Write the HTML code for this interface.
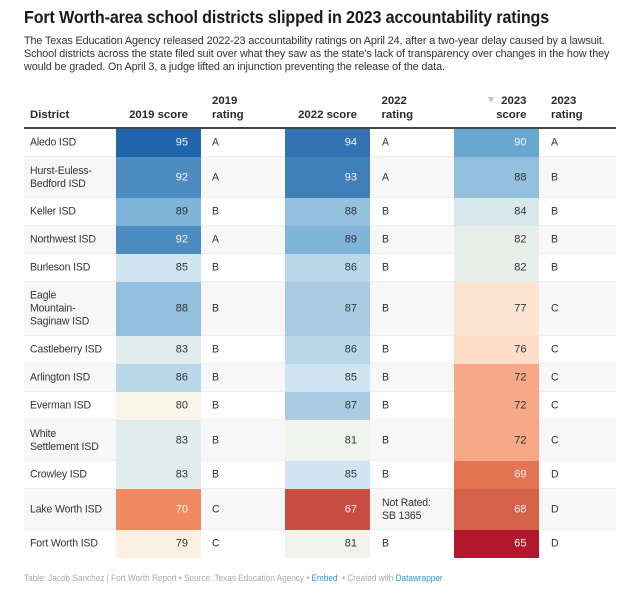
<!DOCTYPE html>
<html lang="en">
<head>
<meta charset="utf-8">
<title>Fort Worth-area school districts</title>
<style>
  html, body { margin: 0; padding: 0; background: #fff; }
  body { position: relative; width: 640px; height: 605px; overflow: hidden; font-family: "Liberation Sans", Arial, sans-serif; color: #333; filter: blur(0.3px); }
  .abs { position: absolute; white-space: nowrap; }
  #title { left: 24px; top: 6px; font-size: 17.5px; line-height: 22px; font-weight: 700; color: #1a1a1a; letter-spacing: -0.13px; transform: scaleX(0.918); transform-origin: left center; }
  .sub { left: 24px; font-size: 11.3px; line-height: 13px; color: #333; letter-spacing: -0.12px; transform: scaleX(0.957); transform-origin: left center; }
  .head { font-size: 11.4px; line-height: 14px; font-weight: 700; color: #2a2a2a; }
  #head-rule { left: 24px; top: 127px; width: 592px; height: 2px; background: #444; }
  .row { position: absolute; left: 24px; width: 592px; border-bottom: 1px solid #eeeeee; box-sizing: border-box; }
  .row.last { border-bottom: none; }
  .cell-text { position: absolute; font-size: 11px; line-height: 13px; letter-spacing: -0.15px; color: #333; white-space: pre; transform: translateY(-50%) scaleX(0.955); transform-origin: left center; }
  .score-bg { position: absolute; width: 85px; }
  .score-val { position: absolute; font-size: 11px; line-height: 13px; transform: translateY(-50%); text-align: right; width: 30px; }
  #footer { left: 24px; top: 572px; font-size: 9px; line-height: 12px; color: #a8a8a8; letter-spacing: -0.02px; transform: scaleX(0.917); transform-origin: left center; }
  #footer a { color: #2b98cf; text-decoration: none; }
</style>
</head>
<body>
<div id="title" class="abs">Fort Worth-area school districts slipped in 2023 accountability ratings</div>
<div class="abs sub" style="top:35px">The Texas Education Agency released 2022-23 accountability ratings on April 24, after a two-year delay caused by a lawsuit.</div>
<div class="abs sub" style="top:48px">School districts across the state filed suit over what they saw as the state's lack of transparency over changes in the how they</div>
<div class="abs sub" style="top:60.5px">would be graded. On April 3, a judge lifted an injunction preventing the release of the data.</div>

<div class="abs head" style="left:30px;top:108px">District</div>
<div class="abs head" style="right:452px;top:108px">2019 score</div>
<div class="abs head" style="left:212px;top:94px">2019<br>rating</div>
<div class="abs head" style="right:283px;top:108px">2022 score</div>
<div class="abs head" style="left:381.5px;top:94px">2022<br>rating</div>
<div class="abs head" style="right:113.5px;top:94px;text-align:right">2023<br>score</div>
<div class="abs" style="left:488px;top:97px;width:0;height:0;border-left:3.5px solid transparent;border-right:3.5px solid transparent;border-top:6px solid #c6c6c6"></div>
<div class="abs head" style="left:551px;top:94px">2023<br>rating</div>
<div id="head-rule" class="abs"></div>

<div id="rows"></div>

<div id="footer" class="abs">Table: Jacob Sanchez | Fort Worth Report • Source: Texas Education Agency • <a href="#">Embed</a>&nbsp; • Created with <a href="#">Datawrapper</a></div>

<script>
const districts = ["Aledo ISD", "Hurst-Euless-\nBedford ISD", "Keller ISD", "Northwest ISD", "Burleson ISD", "Eagle\nMountain-\nSaginaw ISD", "Castleberry ISD", "Arlington ISD", "Everman ISD", "White\nSettlement ISD", "Crowley ISD", "Lake Worth ISD", "Fort Worth ISD"];
const scores2019 = [95, 92, 89, 92, 85, 88, 83, 86, 80, 83, 83, 70, 79];
const ratings2019 = ["A", "A", "B", "A", "B", "B", "B", "B", "B", "B", "B", "C", "C"];
const scores2022 = [94, 93, 88, 89, 86, 87, 86, 85, 87, 81, 85, 67, 81];
const ratings2022 = ["A", "A", "B", "B", "B", "B", "B", "B", "B", "B", "B", "Not Rated:\nSB 1365", "B"];
const scores2023 = [90, 88, 84, 82, 82, 77, 76, 72, 72, 72, 69, 68, 65];
const ratings2023 = ["A", "B", "B", "B", "B", "C", "C", "C", "C", "C", "D", "D", "D"];

const colorDomain = [65, 67, 68, 69, 70, 72, 76, 77, 79, 80, 81, 82, 83, 84, 85, 86, 87, 88, 89, 90, 92, 93, 94, 95];
const colorRange = ["#b2182b", "#c94c40", "#d56349", "#e37553", "#f08a60", "#f7a886", "#fbddc8", "#fbe4d2", "#faf0e2", "#f8f6e9", "#eff3ea", "#e8eeea", "#e1ecec", "#d8e7ee", "#d0e5f1", "#bad8ea", "#a9cce3", "#92c0dd", "#7fb5d8", "#69a8d0", "#4d8cc0", "#3f7fba", "#3574b4", "#2166ac"];

function hexToRgb(h) {
  return [parseInt(h.slice(1, 3), 16), parseInt(h.slice(3, 5), 16), parseInt(h.slice(5, 7), 16)];
}
function colorScale(v) {
  if (v <= colorDomain[0]) return colorRange[0];
  const last = colorDomain.length - 1;
  if (v >= colorDomain[last]) return colorRange[last];
  for (let i = 0; i < last; i++) {
    if (v >= colorDomain[i] && v <= colorDomain[i + 1]) {
      const t = (v - colorDomain[i]) / (colorDomain[i + 1] - colorDomain[i]);
      const a = hexToRgb(colorRange[i]);
      const b = hexToRgb(colorRange[i + 1]);
      return "rgb(" + a.map((c, k) => Math.round(c + (b[k] - c) * t)).join(",") + ")";
    }
  }
}
function textColor(v) {
  return (v >= 90 || v <= 70) ? "#f4f4f4" : "#333";
}

const tableTop = 129;
const rowBase = 28;
const lineStep = 13;
const root = document.getElementById("rows");
let y = tableTop;

function addText(row, text, x, h) {
  const el = document.createElement("div");
  el.className = "cell-text";
  el.style.left = x + "px";
  el.style.top = (h / 2) + "px";
  el.textContent = text;
  row.appendChild(el);
  return el;
}
function addScore(row, value, x, h) {
  const bg = document.createElement("div");
  
  
  bg.className = "score-bg";
  bg.style.left = x + "px";
  bg.style.top = "0px";
  bg.style.height = h + "px";
  bg.style.background = colorScale(value);
  row.appendChild(bg);
  const t = document.createElement("div");
  
  
  t.className = "score-val";
  t.style.left = (x + 42.5) + "px";
  t.style.top = (h / 2) + "px";
  t.style.color = textColor(value);
  t.textContent = value;
  row.appendChild(t);
}

districts.forEach(function (name, i) {
  const lines = Math.max(name.split("\n").length, ratings2022[i].split("\n").length);
  const h = rowBase + lineStep * (lines - 1);
  const row = document.createElement("div");
  
  
  row.className = i === districts.length - 1 ? "row last" : "row";
  row.style.top = y + "px";
  row.style.height = h + "px";
  row.style.background = i % 2 === 1 ? "#f7f7f7" : "#ffffff";

  const nameEl = addText(row, name, 6, h);
  
  

  addScore(row, scores2019[i], 91.5, h);
  const r19 = addText(row, ratings2019[i], 188, h);
  
  

  addScore(row, scores2022[i], 260.5, h);
  const r22 = addText(row, ratings2022[i], 357.5, h);
  
  

  addScore(row, scores2023[i], 430, h);
  const r23 = addText(row, ratings2023[i], 527, h);
  
  

  root.appendChild(row);
  y += h;
});
</script>
</body>
</html>
